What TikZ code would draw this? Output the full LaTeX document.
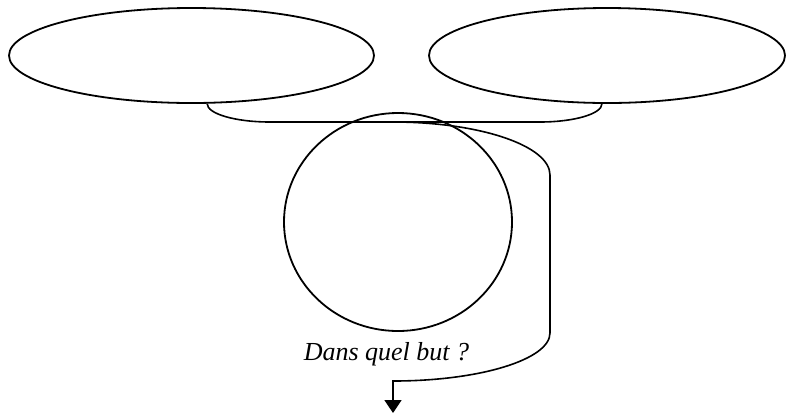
\documentclass[tikz,border=0pt]{standalone}
\usepackage{fontspec}
\setmainfont{Liberation Serif}
\usetikzlibrary{arrows.meta,shapes.geometric}

\begin{document}
\begin{tikzpicture}[
  x=0.5pt, y=-0.5pt,
  bulle/.style={ellipse, draw=black, line width=0.9pt, inner sep=0pt},
  lien/.style={draw=black, line width=0.8pt},
  fleche/.style={lien, -{Triangle[length=6.5pt,width=8.5pt]}},
]
\useasboundingbox (0,0) rectangle (792,414);

%%──────────────────────────────────────────────────────────────────
%% Bulles
%%──────────────────────────────────────────────────────────────────
\node[bulle, minimum width=182.5pt, minimum height=47.5pt] (gauche) at (191.5, 55.5) {};
\node[bulle, minimum width=178pt, minimum height=47.5pt] (droite) at (607, 55.5) {};
\node[bulle, minimum width=114pt, minimum height=109pt] (cercle) at (398, 222) {};

% question sous le cercle
\node[font=\fontsize{13}{15}\selectfont\itshape, anchor=base, inner sep=0pt] (but)
      at (386.5, 360) {Dans quel but ?};

%%──────────────────────────────────────────────────────────────────
%% Liaisons
%%──────────────────────────────────────────────────────────────────
% accolade entre les deux bulles
\draw[lien] (gauche.-72) .. controls +(0,10) and +(-35,0) .. (270,122)
      -- (540,122) .. controls +(34,0) and +(0,10) .. (droite.-96);

% depart sur l'accolade, tour par la droite, fleche vers le bas
\coordinate (depart) at (393,122);
\coordinate (fin) at (393,413);
\draw[fleche] (depart) .. controls +(86.7,0) and +(0,-29.3) .. (550,175)
      -- (550,333) .. controls +(0,26.5) and +(86.7,0) .. (393,381)
      -- (fin);

\end{tikzpicture}
\end{document}
